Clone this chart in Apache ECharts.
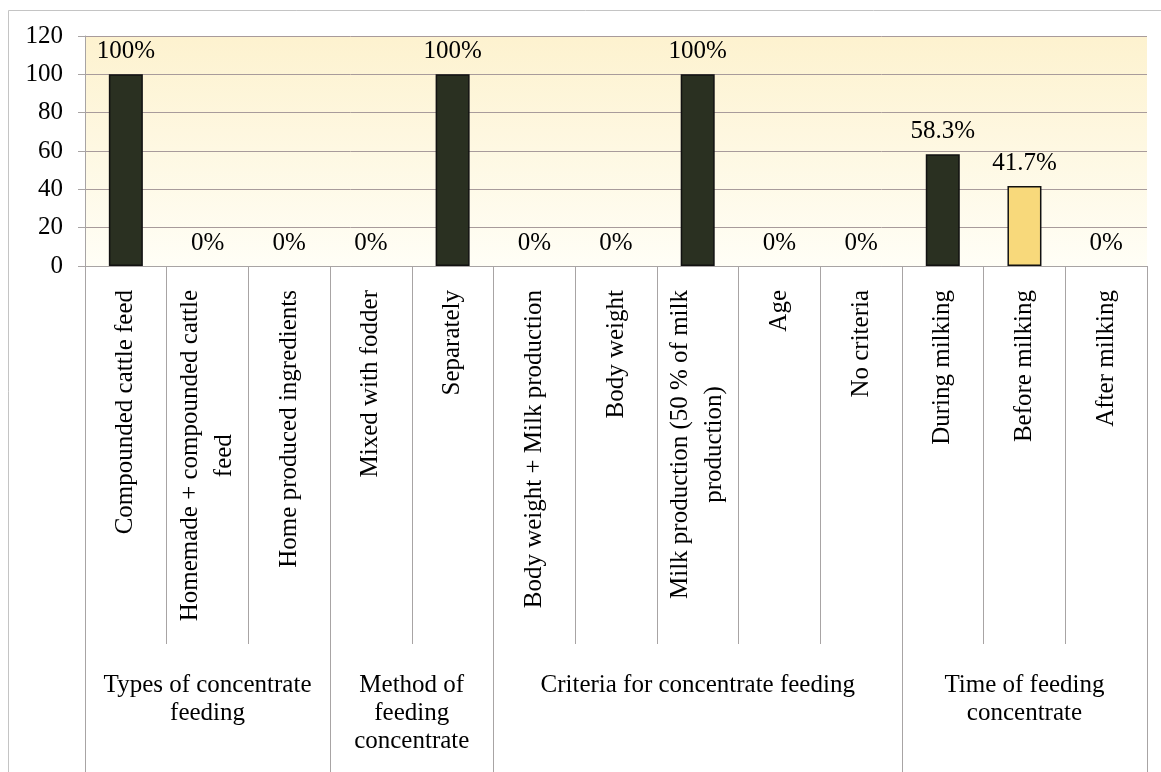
<!DOCTYPE html>
<html>
<head>
  <meta charset="utf-8">
  <script src="https://cdn.jsdelivr.net/npm/echarts@6.0.0/dist/echarts.min.js"></script>
  <style>
    html, body { margin: 0; padding: 0; background: #fff; }
    #main { width: 1161px; height: 772px; }
  </style>
</head>
<body>
  <div id="main"></div>
  <script type="text/javascript">
    // data
    var categories = [
      'Compounded cattle feed',
      'Homemade + compounded cattle\nfeed',
      'Home produced ingredients',
      'Mixed with fodder',
      'Separately',
      'Body weight + Milk production',
      'Body weight',
      'Milk production (50 % of milk\nproduction)',
      'Age',
      'No criteria',
      'During milking',
      'Before milking',
      'After milking'
    ];
    var values = [100, 0, 0, 0, 100, 0, 0, 100, 0, 0, 58.3, 41.7, 0];
    var groups = [
      'Types of concentrate\nfeeding',
      'Method of\nfeeding\nconcentrate',
      'Criteria for concentrate feeding',
      'Time of feeding\nconcentrate'
    ];
    var groupSizes = [3, 2, 5, 3];
    var yMin = 0, yMax = 120, yStep = 20;

    var FONT = '"Liberation Serif", "Times New Roman", serif';
    var DARK = '#2a3021';
    var YELLOW = '#f8d97b';
    var SEP = '#a8a4a4';

    // group axis: half-category slots, labels at group centres, ticks at group edges
    var groupSlots = [];
    for (var i = 0; i <= categories.length * 2; i++) groupSlots.push('');
    var groupEdges = [0];
    var pos = 0;
    groupSizes.forEach(function (n, gi) {
      groupSlots[pos + n] = groups[gi];
      pos += n * 2;
      groupEdges.push(pos);
    });

    var barData = values.map(function (v, i) {
      var item = { value: v, itemStyle: {} };
      if (categories[i] === 'Before milking') item.itemStyle.color = YELLOW;
      if (v === 0) item.itemStyle.borderWidth = 0;
      return item;
    });

    var myChart = echarts.init(document.getElementById('main'));
    var option = {
      animation: false,
      backgroundColor: '#fff',
      graphic: [{
        type: 'rect',
        shape: { x: 8.5, y: 10.5, width: 1170, height: 780 },
        style: { fill: 'none', stroke: '#c4c4c4', lineWidth: 1 },
        silent: true
      }],
      grid: {
        left: 85, right: 14, top: 36, bottom: 506,
        show: true,
        borderWidth: 0,
        backgroundColor: new echarts.graphic.LinearGradient(0, 0, 0, 1, [
          { offset: 0, color: '#fdf2cf' },
          { offset: 1, color: '#fffef6' }
        ])
      },
      xAxis: [{
        type: 'category',
        data: categories,
        axisLine: { lineStyle: { color: SEP, width: 1 } },
        axisTick: {
          show: true, interval: 0, alignWithLabel: false, length: 378,
          lineStyle: { color: SEP, width: 1 }
        },
        axisLabel: {
          interval: 0,
          rotate: 90,
          margin: 24,
          color: '#000',
          fontFamily: FONT,
          fontSize: 25,
          lineHeight: 34,
          formatter: function (v) {
            return v.split('\n').map(function (l) { return '{c|' + l + '}'; }).join('\n');
          },
          rich: {
            c: { align: 'center', fontFamily: FONT, fontSize: 25, lineHeight: 34, color: '#000' }
          }
        }
      }, {
        type: 'category',
        data: groupSlots,
        boundaryGap: false,
        position: 'bottom',
        offset: 0,
        axisLine: { show: false },
        axisTick: {
          show: true, length: 520,
          interval: function (idx) { return groupEdges.indexOf(idx) >= 0; },
          lineStyle: { color: SEP, width: 1 }
        },
        axisLabel: {
          interval: 0,
          margin: 405,
          color: '#000',
          fontFamily: FONT,
          fontSize: 25,
          lineHeight: 28,
          align: 'center'
        }
      }],
      yAxis: {
        type: 'value',
        min: yMin, max: yMax, interval: yStep,
        axisLine: { show: true, lineStyle: { color: SEP } },
        axisTick: { show: true, length: 7, lineStyle: { color: SEP } },
        axisLabel: { color: '#000', fontFamily: FONT, fontSize: 25, margin: 22 },
        splitLine: { lineStyle: { color: '#a89b9b', width: 1 } }
      },
      series: [{
        type: 'bar',
        xAxisIndex: 0,
        data: barData,
        barWidth: 34,
        itemStyle: { color: DARK, borderColor: '#111', borderWidth: 1.5 },
        label: {
          show: true,
          position: 'top',
          distance: 10,
          color: '#000',
          fontFamily: FONT,
          fontSize: 25,
          lineHeight: 25,
          formatter: function (p) { return p.value + '%'; }
        }
      }]
    };
    myChart.setOption(option);
  </script>
</body>
</html>
